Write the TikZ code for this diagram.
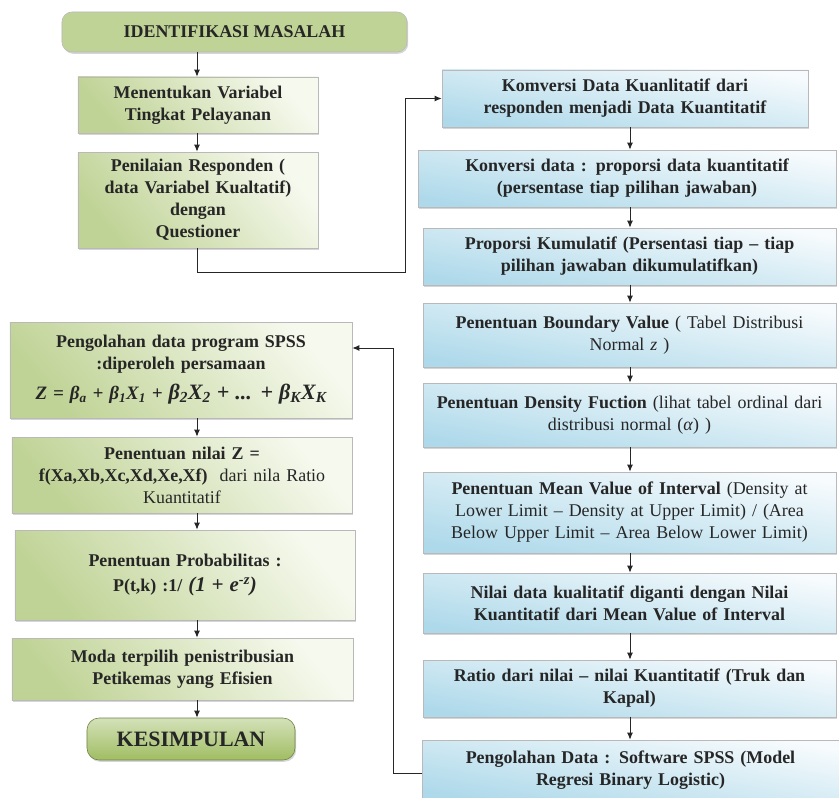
\documentclass[tikz,border=0pt]{standalone}
\usepackage{fontspec}
\setmainfont{Liberation Serif}
\usetikzlibrary{arrows.meta,shadows}

\begin{document}
\begin{tikzpicture}[>={Latex[length=7bp,width=6bp]},x=1bp,y=-1bp,
  box/.style={draw=gray!55,line width=0.6bp,align=center,inner sep=2bp,
    font=\fontsize{18}{22}\selectfont\bfseries,text=black!85,
    drop shadow={shadow xshift=1.2bp,shadow yshift=-1.8bp,fill=gray!65}},
  gbox/.style={box,top color=g2,bottom color=g1,shading angle=-50},
  bbox/.style={box,top color=b2,bottom color=b1,shading angle=-10},
  conn/.style={draw=black!85,line width=1bp}]
%%
%%
\definecolor{g1}{HTML}{C0D396}%
\definecolor{g2}{HTML}{F6F9EE}%
\definecolor{g3}{HTML}{A0BD63}%
\definecolor{b1}{HTML}{AED9EA}%
\definecolor{b2}{HTML}{F7FBFD}%
%
\path[use as bounding box,clip] (0,0) rectangle (839,798);
  \coordinate (lc) at (197,0);
  \coordinate (rc) at (630,0);
%
% left column, top
  \node (ident) at (234.5,32) [box,rounded corners=10bp,top color=g1,middle color=g2,bottom color=g1,
    minimum width=345bp,minimum height=40bp] {IDENTIFIKASI MASALAH};
  \node (varb) at (198,105) [gbox,minimum width=240bp,minimum height=56bp,text width=234bp]
    {Menentukan Variabel\\Tingkat Pelayanan};
  \node (nilai) at (198,200) [gbox,minimum width=240bp,minimum height=96bp,text width=234bp]
    {Penilaian Responden (\\data Variabel Kualtatif)\\dengan\\Questioner};
%
% right column
  \node (konv1) at (625,98.5) [bbox,minimum width=366bp,minimum height=57bp,text width=360bp]
    {Komversi Data Kuanlitatif dari\\responden  menjadi Data Kuantitatif};
  \node (konv2) at (627,178.5) [bbox,minimum width=418bp,minimum height=57bp,text width=412bp]
    {Konversi data : proporsi data kuantitatif\\(persentase tiap pilihan jawaban)};
  \node (kumul) at (629.5,256.5) [bbox,minimum width=413bp,minimum height=57bp,text width=407bp]
    {Proporsi Kumulatif (Persentasi tiap -- tiap\\pilihan jawaban dikumulatifkan)};
  \node (bound) at (629.5,335) [bbox,minimum width=413bp,minimum height=64bp,text width=407bp]
    {Penentuan Boundary Value \textmd{( Tabel Distribusi}\\\textmd{Normal \textit{z} )}};
  \node (dens) at (629.5,415) [bbox,minimum width=413bp,minimum height=64bp,text width=407bp]
    {Penentuan Density Fuction \textmd{(lihat tabel ordinal dari}\\\textmd{distribusi normal (\textit{α}) )}};
  \node (mean) at (629.5,512.5) [bbox,minimum width=413bp,minimum height=81bp,text width=407bp]
    {Penentuan Mean Value of Interval \textmd{(Density at}\\\textmd{Lower Limit -- Density at Upper Limit) / (Area}\\\textmd{Below Upper Limit -- Area Below Lower Limit)}};
  \node (kual) at (629.5,603) [bbox,minimum width=413bp,minimum height=60bp,text width=407bp]
    {Nilai data kualitatif diganti dengan Nilai\\Kuantitatif dari Mean Value of Interval};
  \node (ratio) at (629.5,688.5) [bbox,minimum width=413bp,minimum height=57bp,text width=407bp]
    {Ratio dari nilai -- nilai Kuantitatif (Truk dan\\Kapal)};
  \node (olah) at (630.5,770) [bbox,minimum width=417bp,minimum height=60bp,text width=407bp]
    {Pengolahan Data : Software SPSS (Model\\Regresi Binary Logistic)};
%
% left column, bottom
  \node (spss) at (181,370) [gbox,minimum width=342bp,minimum height=96bp,text width=336bp]
    {Pengolahan data  program  SPSS\\:diperoleh persamaan\\[8bp]
     {\itshape\fontsize{19}{22}\selectfont Z = β\textsubscript{a} + β\textsubscript{1}X\textsubscript{1} +
      {\fontsize{22}{22}\selectfont β\textsubscript{2}X\textsubscript{2} + ... + β\textsubscript{K}X\textsubscript{K}}}};
  \node (zval) at (182,475) [gbox,minimum width=340bp,minimum height=76bp,text width=334bp]
    {Penentuan nilai Z =\\f(Xa,Xb,Xc,Xd,Xe,Xf) \textmd{ dari nila  Ratio}\\\textmd{Kuantitatif}};
  \node (prob) at (185,575) [gbox,minimum width=340bp,minimum height=90bp,text width=334bp]
    {Penentuan Probabilitas  :\\[4bp]P(t,k) :1/ {\itshape\fontsize{21}{22}\selectfont (1 + e\textsuperscript{-z})}};
  \node (moda) at (182.5,669) [gbox,minimum width=341bp,minimum height=62bp,text width=335bp]
    {Moda terpilih penistribusian\\Petikemas yang Efisien};
  \node (kesim) at (191,739) [box,rounded corners=12bp,top color=g3!45!white,bottom color=g3,
    draw=g3!70!black,minimum width=208bp,minimum height=42bp,font=\fontsize{22}{24}\selectfont\bfseries] {KESIMPULAN};
%
% arrows
  \draw[conn,->] (ident.south -| lc) -- (varb.north -| lc);
  \draw[conn,->] (varb.south -| lc) -- (nilai.north -| lc);
  \coordinate (t1) at (405,272);
  \draw[conn,->] (nilai.south -| lc) |- (t1) |- (konv1.west);

  \draw[conn,->] (konv1.south -| rc) -- (konv2.north -| rc);
  \draw[conn,->] (konv2.south -| rc) -- (kumul.north -| rc);
  \draw[conn,->] (kumul.south -| rc) -- (bound.north -| rc);
  \draw[conn,->] (bound.south -| rc) -- (dens.north -| rc);
  \draw[conn,->] (dens.south -| rc) -- (mean.north -| rc);
  \draw[conn,->] (mean.south -| rc) -- (kual.north -| rc);
  \draw[conn,->] (kual.south -| rc) -- (ratio.north -| rc);
  \draw[conn,->] (ratio.south -| rc) -- (olah.north -| rc);

  \coordinate (t2) at (393,773);
  \coordinate (t3) at (393,348);
  \draw[conn,->] (olah.west |- t2) -- (t2) -- (t3) -- (spss.east |- t3);

  \draw[conn,->] (spss.south -| lc) -- (zval.north -| lc);
  \draw[conn,->] (zval.south -| lc) -- (prob.north -| lc);
  \draw[conn,->] (prob.south -| lc) -- (moda.north -| lc);
  \draw[conn,->] (moda.south -| lc) -- (kesim.north -| lc);
%
\end{tikzpicture}
\end{document}
